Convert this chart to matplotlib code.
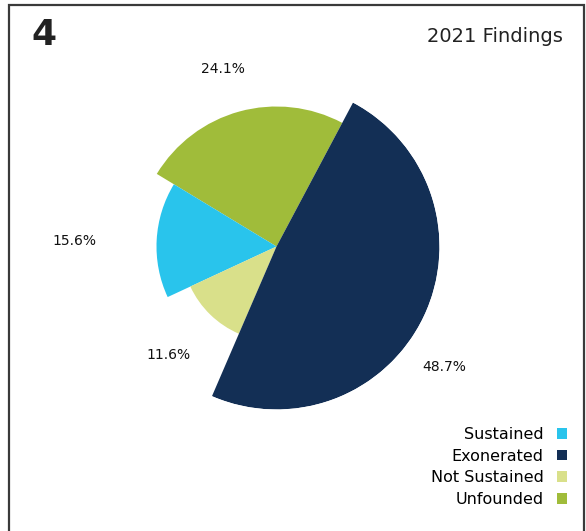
import numpy as np
import matplotlib.pyplot as plt
from matplotlib.patches import Patch, Rectangle

# findings, in legend order
categories = ["Sustained", "Exonerated", "Not Sustained", "Unfounded"]
shares = [15.6, 48.7, 11.6, 24.1]
colors = ["#29C4EC", "#132F55", "#D9E08A", "#A0BC3A"]

# slices go counter-clockwise in this order
draw_order = ["Unfounded", "Sustained", "Not Sustained", "Exonerated"]
start_deg = 62
radius = {"Unfounded": 140, "Sustained": 120, "Not Sustained": 95, "Exonerated": 163}
label_dist = {"Unfounded": 186, "Sustained": 202, "Not Sustained": 153, "Exonerated": 207}
label_turn = {"Unfounded": 1.5, "Sustained": 1.7, "Not Sustained": -0.5, "Exonerated": -10}

W, H = 586, 531
fig = plt.figure(figsize=(W / 100, H / 100), dpi=100)
plt.rcParams['font.family'] = ['DejaVu Sans']

cx, cy, rmax = 276.5, 246.5, 163
ax = fig.add_axes([(cx - rmax) / W, (H - cy - rmax) / H, 2 * rmax / W, 2 * rmax / H],
                  projection='polar')
ax.set_ylim(0, rmax)
ax.set_axis_off()

theta0 = np.deg2rad(start_deg)
for name in draw_order:
    i = categories.index(name)
    span = np.deg2rad(shares[i] / 100 * 360)
    mid = theta0 + span / 2
    ax.bar(mid, radius[name], width=span, bottom=0, color=colors[i],
           edgecolor='none', align='center', linewidth=0)
    t = mid + np.deg2rad(label_turn[name])
    ax.text(t, label_dist[name], f"{shares[i]}%", ha='center', va='center',
            fontsize=10, color='#111111', clip_on=False)
    theta0 += span

# header
fig.text(44 / W, 1 - 35 / H, "4", ha='center', va='center', fontsize=26,
         color='#222222', fontweight='semibold')
fig.text(563 / W, 1 - 36 / H, "2021 Findings", ha='right', va='center',
         fontsize=14, color='#222222')

# frame running off the bottom edge
fig.add_artist(Rectangle((8.5 / W, -0.05), 575 / W, 1.05 - 5 / H,
                         transform=fig.transFigure, fill=False,
                         edgecolor='#3a3a3a', linewidth=1.6))

handles = [Patch(facecolor=c, edgecolor='none') for c in colors]
fig.legend(handles, categories, loc='lower right', bbox_to_anchor=(567 / W, 24 / H),
           markerfirst=False, frameon=False, fontsize=11.5,
           handlelength=0.65, handleheight=0.65, handletextpad=0.8,
           labelspacing=0.42, borderpad=0, borderaxespad=0)

fig.savefig("out.png", dpi=100)
